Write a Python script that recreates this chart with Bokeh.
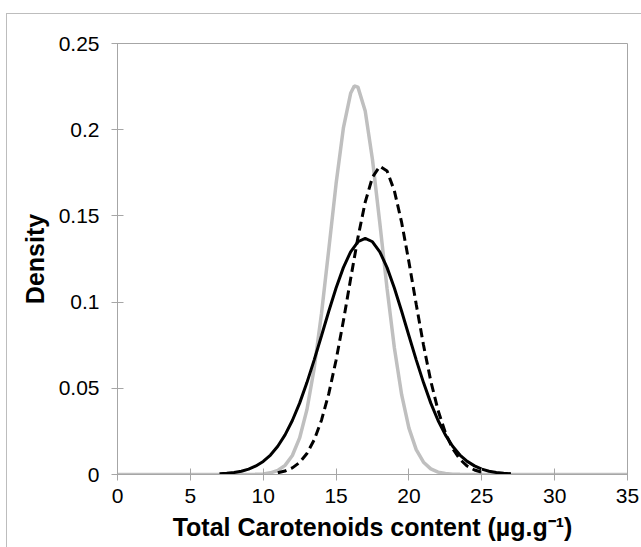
from bokeh.plotting import figure
from bokeh.models import FixedTicker
from bokeh.embed import file_html
from bokeh.resources import INLINE

# ---- data ----
x_ticks = [0, 5, 10, 15, 20, 25, 30, 35]
y_ticks = [0, 0.05, 0.1, 0.15, 0.2, 0.25]
y_tick_labels = ["0", "0.05", "0.1", "0.15", "0.2", "0.25"]
x_title = "Total Carotenoids content (µg.g⁻¹)"
y_title = "Density"

gray_x = [0, 9.5, 10, 10.5, 11, 11.5, 12, 12.5, 13, 13.5, 14, 14.5, 15, 15.5, 16, 16.25,
          16.5, 17, 17.5, 18, 18.5, 19, 19.5, 20, 20.5, 21, 21.5, 22, 22.5, 23, 23.5, 35]
gray_y = [0, 0.0001, 0.00036, 0.00096, 0.00234, 0.00528, 0.0110, 0.0212, 0.0376, 0.0617,
          0.0934, 0.1306, 0.1686, 0.2009, 0.2211, 0.2254, 0.2247, 0.2108, 0.1826, 0.1460,
          0.1078, 0.0735, 0.0463, 0.0269, 0.0144, 0.00715, 0.00327, 0.00138, 0.00054,
          0.0002, 0.0001, 0]

black_x = [7, 7.5, 8, 8.5, 9, 9.5, 10, 10.5, 11, 11.5, 12, 12.5, 13, 13.5, 14, 14.5, 15,
           15.5, 16, 16.5, 17, 17.5, 18, 18.5, 19, 19.5, 20, 20.5, 21, 21.5, 22, 22.5, 23,
           23.5, 24, 24.5, 25, 25.5, 26, 26.5, 27]
black_y = [0.00037, 0.00066, 0.00115, 0.00192, 0.00313, 0.00495, 0.00759, 0.0113, 0.01635,
           0.0230, 0.0313, 0.0414, 0.0533, 0.0665, 0.0805, 0.0947, 0.1082, 0.1200, 0.1292,
           0.1350, 0.1370, 0.1350, 0.1292, 0.1200, 0.1082, 0.0947, 0.0805, 0.0665, 0.0533,
           0.0414, 0.0313, 0.0230, 0.0164, 0.0113, 0.0076, 0.0050, 0.0031, 0.0019, 0.0012,
           0.0007, 0.0004]

dash_x = [11, 11.5, 12, 12.5, 13, 13.5, 14, 14.5, 15, 15.5, 16, 16.5, 17, 17.5, 18, 18.5,
          19, 19.5, 20, 20.5, 21, 21.5, 22, 22.5, 23, 23.5, 24, 24.5, 25]
dash_y = [0.00098, 0.00199, 0.00383, 0.00701, 0.01219, 0.0201, 0.0315, 0.0469, 0.0663,
          0.0890, 0.1135, 0.1374, 0.1580, 0.1725, 0.1788, 0.1761, 0.1646, 0.1462, 0.1233,
          0.0987, 0.0751, 0.0542, 0.0372, 0.0242, 0.0150, 0.0088, 0.0049, 0.0026, 0.0013]

FONT = "Liberation Sans"
AXIS_GRAY = "#a6a6a6"
FRAME_GRAY = "#bdbdbd"

p = figure(width=641, height=547, x_range=(0, 35), y_range=(0, 0.25),
           output_backend="svg", toolbar_location=None,
           min_border_left=117, min_border_right=14, min_border_top=43, min_border_bottom=73)

p.background_fill_color = "white"
p.border_fill_alpha = 0
p.outline_line_color = AXIS_GRAY
p.outline_line_width = 1
p.xgrid.visible = False
p.ygrid.visible = False

# outer chart-area border (drawn behind the transparent canvas border)
p.styles = {
    "background": (f"linear-gradient({FRAME_GRAY},{FRAME_GRAY}) 6px 13px / 1px 100% no-repeat, "
                   f"linear-gradient({FRAME_GRAY},{FRAME_GRAY}) 6px 13px / 100% 1px no-repeat, "
                   "white"),
}

p.line(gray_x, gray_y, line_color="#bfbfbf", line_width=3.5)
p.line(black_x, black_y, line_color="black", line_width=3)
p.line(dash_x, dash_y, line_color="black", line_width=3, line_dash="9 5")

for ax in (p.xaxis[0], p.yaxis[0]):
    ax.axis_line_color = AXIS_GRAY
    ax.major_tick_line_color = AXIS_GRAY
    ax.minor_tick_line_color = None
    ax.major_tick_in = 6
    ax.major_tick_out = 6
    ax.major_label_text_font = FONT
    ax.major_label_text_font_size = "21px"
    ax.major_label_text_color = "black"
    ax.axis_label_text_font = FONT
    ax.axis_label_text_font_style = "bold"
    ax.axis_label_text_font_size = "25px"
    ax.axis_label_text_color = "black"

p.xaxis.ticker = FixedTicker(ticks=x_ticks)
p.yaxis.ticker = FixedTicker(ticks=y_ticks)
p.yaxis.major_label_overrides = dict(zip(y_ticks, y_tick_labels))
p.xaxis.major_label_standoff = 8
p.yaxis.major_label_standoff = 12
p.xaxis.axis_label_standoff = 7
p.yaxis.axis_label_standoff = 7
p.xaxis.axis_label = x_title
p.yaxis.axis_label = y_title

open("out.html", "w").write(file_html(p, INLINE))
